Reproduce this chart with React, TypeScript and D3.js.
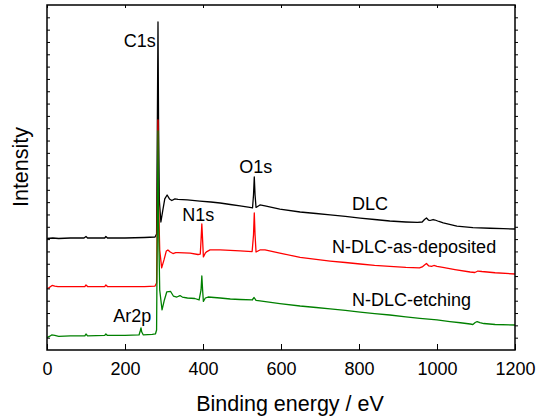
import * as React from 'react'
import { useEffect, useRef } from 'react'
import * as d3 from 'd3'

// binding energy (eV) and intensity (a.u., axis spans 0-28 minor ticks)
const dlcEnergy = [0, 15, 30, 60, 95, 100, 104, 148, 151, 155, 200, 250, 277, 281, 283, 284.6, 286, 288, 292, 297, 302, 308, 314, 320, 328, 336, 360, 392, 420, 444, 470, 495, 520, 527, 529.5, 531.5, 533.5, 536, 546, 559, 597, 649, 690, 726, 765, 803, 840, 879, 920, 950, 962, 968, 973, 978, 982, 990, 995, 1005, 1016, 1051, 1092, 1136, 1170, 1200]
const dlcIntensity = [9.05, 9.09, 9.05, 9.09, 9.09, 9.21, 9.09, 9.09, 9.21, 9.09, 9.09, 9.13, 9.17, 9.42, 18.67, 26.62, 18.67, 12.18, 10.39, 11.36, 12.26, 12.58, 12.26, 12.13, 12.26, 12.22, 12.18, 12.09, 12.01, 11.93, 11.81, 11.69, 11.57, 11.53, 12.58, 14.04, 12.58, 11.57, 11.77, 11.69, 11.44, 11.2, 11.08, 10.96, 10.84, 10.71, 10.59, 10.47, 10.39, 10.35, 10.39, 10.59, 10.71, 10.55, 10.51, 10.59, 10.55, 10.43, 10.31, 10.06, 9.94, 9.88, 9.85, 9.82]

const depEnergy = [0, 6, 13, 20, 28, 60, 97, 100, 104, 148, 151, 155, 200, 250, 277, 281, 283, 284.6, 286, 289, 294, 300, 306, 310, 316, 323, 330, 336, 367, 387, 393, 395, 397, 399, 401, 406, 410, 418, 444, 470, 495, 526, 529.5, 531.5, 533.5, 536, 546, 559, 597, 649, 690, 726, 765, 803, 840, 879, 920, 955, 962, 968, 973, 979, 986, 992, 1000, 1015, 1046, 1085, 1097, 1105, 1115, 1149, 1200]
const depIntensity = [4.99, 5.07, 5.24, 5.19, 5.15, 5.15, 5.15, 5.28, 5.15, 5.15, 5.28, 5.15, 5.15, 5.15, 5.19, 5.44, 12.18, 18.67, 12.18, 8.12, 6.66, 7.31, 8.04, 8.12, 7.95, 7.83, 7.91, 7.91, 7.87, 7.75, 7.79, 8.93, 10.23, 8.93, 7.55, 7.87, 7.99, 8.12, 8.12, 8.08, 8.04, 7.99, 9.33, 11.12, 9.33, 7.95, 8.12, 8.12, 7.87, 7.51, 7.35, 7.22, 7.1, 6.98, 6.86, 6.78, 6.7, 6.66, 6.74, 6.9, 7.02, 6.82, 6.78, 6.86, 6.78, 6.7, 6.53, 6.33, 6.29, 6.41, 6.37, 6.27, 6.17]

const etchEnergy = [0, 6, 12, 20, 30, 60, 97, 100, 104, 148, 151, 155, 200, 236, 239, 241, 243, 247, 270, 278, 281, 283, 284.6, 286, 289, 295, 301, 307, 317, 324, 333, 341, 347, 360, 379, 390, 395, 397, 399, 401, 406, 413, 444, 470, 495, 526, 531, 536, 546, 597, 649, 690, 726, 765, 803, 840, 879, 920, 956, 1000, 1033, 1060, 1085, 1092, 1098, 1103, 1110, 1120, 1149, 1200]
const etchIntensity = [1.01, 1.1, 1.22, 1.18, 1.11, 1.14, 1.14, 1.3, 1.14, 1.18, 1.3, 1.18, 1.18, 1.22, 1.54, 1.79, 1.46, 1.22, 1.26, 1.3, 1.62, 10.55, 17.78, 10.55, 4.87, 3.25, 4.06, 4.71, 4.75, 4.38, 4.3, 4.42, 4.3, 4.22, 4.18, 4.06, 4.87, 6.01, 4.87, 3.94, 4.22, 4.3, 4.22, 4.14, 4.1, 4.06, 4.26, 4.02, 3.98, 3.77, 3.57, 3.45, 3.33, 3.21, 3.08, 2.96, 2.84, 2.68, 2.56, 2.44, 2.31, 2.21, 2.11, 2.07, 2.23, 2.31, 2.23, 2.15, 2.07, 2.03]

const xTicks = [0, 200, 400, 600, 800, 1000, 1200]
const yMinorTicks = d3.range(1, 28)

const seriesNames = ['DLC', 'N-DLC-as-deposited', 'N-DLC-etching']
const seriesColors = ['#000000', '#ff0000', '#008000']

// peak annotations: label, energy, intensity where label baseline sits
const peakLabels = ['C1s', 'O1s', 'N1s', 'Ar2p']
const peakEnergy = [279, 493, 347, 170]
const peakLabelY = [24.6, 14.4, 10.5, 2.3]
const peakAnchor = ['end', 'start', 'start', 'start']

const seriesLabelEnergy = [782, 731, 782]
const seriesLabelY = [11.4, 7.85, 3.55]

const width = 537
const height = 420
const marginTop = 5
const marginRight = 22
const marginBottom = 70
const marginLeft = 47

export default function App() {
  const svgRef = useRef<SVGSVGElement>(null)

  useEffect(() => {
    if (!svgRef.current) return
    const svg = d3.select(svgRef.current)
    svg.selectAll('*').remove()

    const innerWidth = width - marginLeft - marginRight
    const innerHeight = height - marginTop - marginBottom
    const font = '"Liberation Sans", Arial, sans-serif'

    const x = d3.scaleLinear().domain([0, 1200]).range([0, innerWidth])
    const y = d3.scaleLinear().domain([0, 28]).range([innerHeight, 0])

    const g = svg.append('g')
      .attr('transform', `translate(${marginLeft}, ${marginTop})`)

    const line = d3.line<[number, number]>()
      .x(d => x(d[0]))
      .y(d => y(d[1]))

    const series = [
      d3.zip(dlcEnergy, dlcIntensity),
      d3.zip(depEnergy, depIntensity),
      d3.zip(etchEnergy, etchIntensity),
    ]

    series.forEach((pts, i) => {
      g.append('path')
        .datum(pts as [number, number][])
        .attr('fill', 'none')
        .attr('stroke', seriesColors[i])
        .attr('stroke-width', 1.3)
        .attr('stroke-linejoin', 'round')
        .attr('d', line)
    })

    // axes: ticks point inward on left/bottom/top, outward on right
    const bottom = g.append('g')
      .attr('transform', `translate(0, ${innerHeight})`)
      .call(d3.axisBottom(x).tickValues(xTicks).tickFormat(d3.format('d')).tickSizeInner(-6).tickSizeOuter(0).tickPadding(12) as any)
    bottom.selectAll('text')
      .attr('font-family', font)
      .attr('font-size', 18)
      .attr('fill', '#000')

    g.append('g')
      .call(d3.axisTop(x).tickValues(xTicks).tickSizeInner(-3).tickSizeOuter(0).tickFormat(() => '') as any)

    g.append('g')
      .call(d3.axisLeft(y).tickValues(yMinorTicks).tickSizeInner(-3).tickSizeOuter(0).tickFormat(() => '') as any)

    g.append('g')
      .attr('transform', `translate(${innerWidth}, 0)`)
      .call(d3.axisRight(y).tickValues(yMinorTicks).tickSizeInner(3).tickSizeOuter(0).tickFormat(() => '') as any)

    g.selectAll('.domain').remove()
    g.selectAll('.tick line').attr('stroke', '#000').attr('stroke-width', 1)

    g.append('rect')
      .attr('width', innerWidth)
      .attr('height', innerHeight)
      .attr('fill', 'none')
      .attr('stroke', '#000')
      .attr('stroke-width', 1.5)

    // peak labels
    peakLabels.forEach((t, i) => {
      g.append('text')
        .attr('x', x(peakEnergy[i]))
        .attr('y', y(peakLabelY[i]))
        .attr('text-anchor', peakAnchor[i])
        .attr('font-family', font)
        .attr('font-size', 18)
        .attr('fill', '#000')
        .text(t)
    })

    // sample labels
    seriesNames.forEach((t, i) => {
      g.append('text')
        .attr('x', x(seriesLabelEnergy[i]))
        .attr('y', y(seriesLabelY[i]))
        .attr('font-family', font)
        .attr('font-size', 18)
        .attr('fill', '#000')
        .text(t)
    })

    // axis titles
    svg.append('text')
      .attr('x', 290)
      .attr('y', 411)
      .attr('text-anchor', 'middle')
      .attr('font-family', font)
      .attr('font-size', 21.5)
      .attr('fill', '#000')
      .text('Binding energy / eV')

    svg.append('text')
      .attr('transform', `translate(28, 167) rotate(-90)`)
      .attr('text-anchor', 'middle')
      .attr('font-family', font)
      .attr('font-size', 21.5)
      .attr('fill', '#000')
      .text('Intensity')
  }, [])

  return (
    <svg
      ref={svgRef}
      width={width}
      height={height}
      style={{ position: 'absolute', left: 0, top: 0, background: '#fff' }}
    />
  )
}
